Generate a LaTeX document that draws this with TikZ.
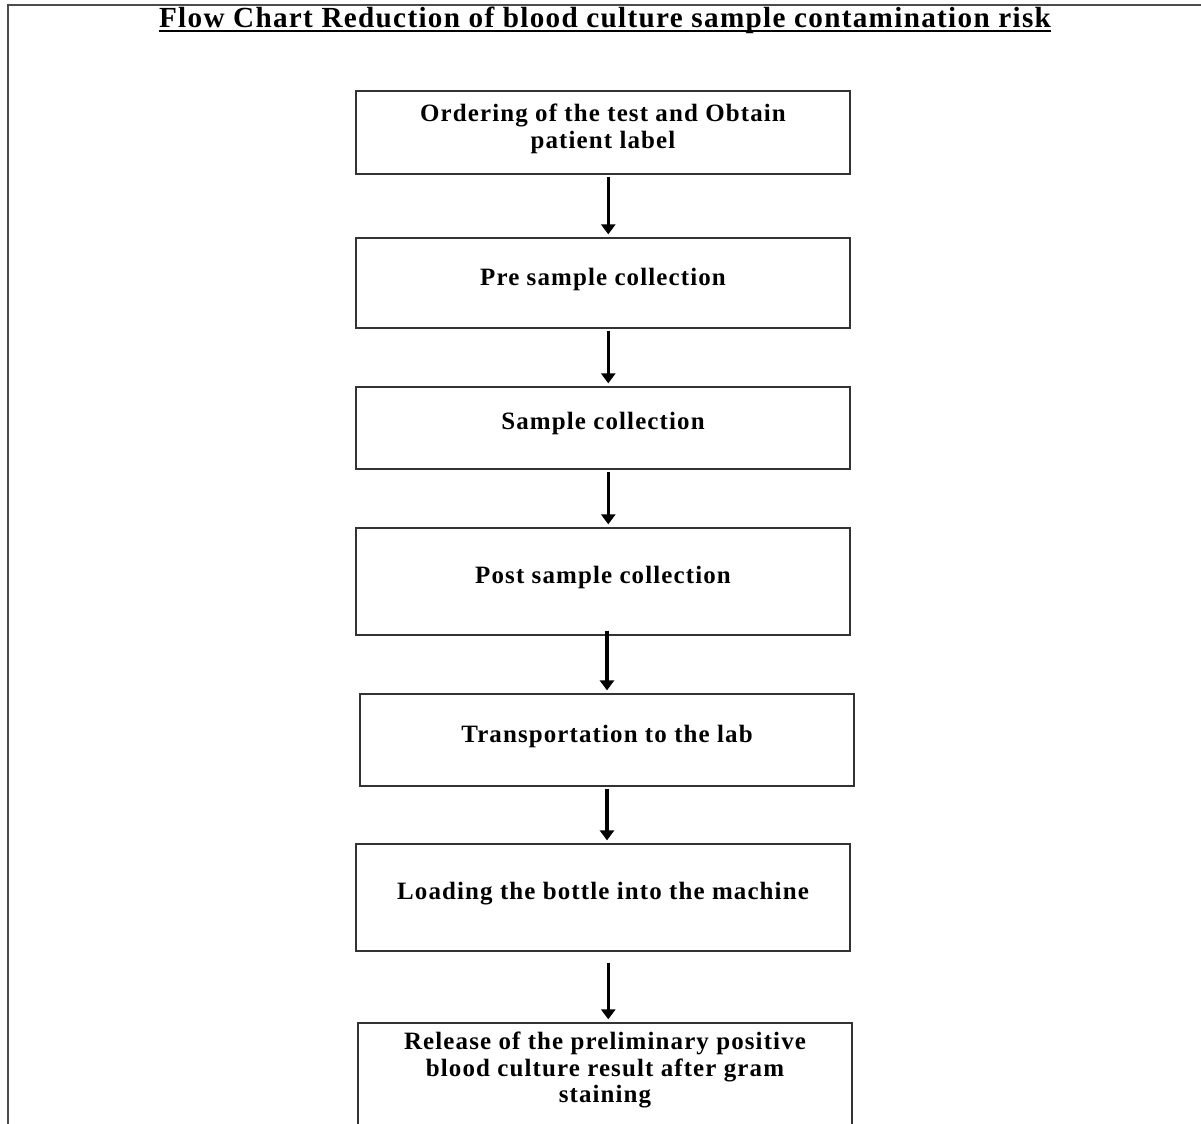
\documentclass[tikz,border=0pt]{standalone}
\usepackage{fontspec}
\setmainfont{Liberation Serif}[LetterSpace=4.5]
\usepackage{tikz}
\usetikzlibrary{arrows.meta,positioning,calc}

\tikzset{
  stepbox/.style={draw=black!80, line width=0.04cm, minimum width=9.88cm, inner sep=0pt},
  steptext/.style={align=center, inner sep=0pt, font=\bfseries\fontsize{14.2}{15.0}\selectfont},
  flow/.style={line width=0.065cm, -{Triangle[length=0.2cm, width=0.28cm]}, shorten <=1pt, shorten >=1.5pt}
}

\begin{document}
\begin{tikzpicture}[x=0.02cm, y=-0.02cm]
\useasboundingbox (0,0) rectangle (1201,1124);
\clip (0,0) rectangle (1201,1124);
% frame
\draw[black!70, line width=0.03cm] (8,1124) -- (8,5) -- (1201,5);
% title
\node[font=\bfseries\fontsize{16.6}{17}\selectfont, inner sep=0pt, anchor=base] (title) at (605,28) {Flow Chart Reduction of blood culture sample contamination risk};
\draw[line width=0.04cm] ([yshift=-0.07cm]title.base west) -- ([yshift=-0.07cm]title.base east);
% boxes
\node[stepbox, minimum height=1.66cm] (b1) at (603,132.5) {};
\node[stepbox, minimum height=1.80cm] (b2) at (603,283) {};
\node[stepbox, minimum height=1.64cm] (b3) at (603,428) {};
\node[stepbox, minimum height=2.14cm] (b4) at (603,581.5) {};
\node[stepbox, minimum height=1.84cm] (b5) at (607,740) {};
\node[stepbox, minimum height=2.14cm] (b6) at (603,897.5) {};
\node[stepbox, minimum height=2.20cm] (b7) at (605,1078) {};
% texts
\node[steptext] (t1) at (603,129) {Ordering of the test and Obtain\\patient label};
\node[steptext] (t2) at (603,280) {Pre sample collection};
\node[steptext] (t3) at (603,424) {Sample collection};
\node[steptext] (t4) at (603,578) {Post sample collection};
\node[steptext] (t5) at (607,737) {Transportation to the lab};
\node[steptext] (t6) at (603,894) {Loading the bottle into the machine};
\node[steptext] (t7) at (605,1070) {Release of the preliminary positive\\blood culture result after gram\\staining};
% arrows
\draw[flow] ([xshift=3]b1.south) -- ([xshift=3]b2.north);
\draw[flow] ([xshift=3]b2.south) -- ([xshift=3]b3.north);
\draw[flow] ([xshift=3]b3.south) -- ([xshift=3]b4.north);
\draw[flow, shorten <=-3pt] (b4.south -| b5) -- (b5.north);
\draw[flow] (b5.south) -- (b6.north -| b5);
\draw[flow, shorten <=6pt] ([xshift=3]b6.south) -- ([xshift=3]b6.south |- b7.north);
\end{tikzpicture}
\end{document}
